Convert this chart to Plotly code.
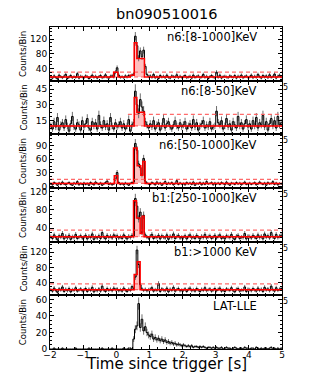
import numpy as np
from plotly import graph_objs as go
from plotly import subplots

# light curve binning (s)
t_start = -2.0
bin_width = 0.05

panel_labels = ['n6:[8-1000]KeV', 'n6:[8-50]KeV', 'n6:[50-1000]KeV',
                'b1:[250-1000]KeV', 'b1:>1000 KeV', 'LAT-LLE']

# counts per bin, one row per second (-2..5 s)
counts_n6_all = [17, 14, 20, 16, 12, 22, 18, 15, 19, 24, 13, 17, 21, 15, 18, 16, 26, 14, 19, 17,
                 15, 20, 18, 13, 17, 22, 16, 19, 14, 18, 21, 15, 17, 23, 16, 14, 19, 20, 17, 30,
                 42, 22, 16, 18, 15, 20, 17, 21, 19, 22, 25, 128, 102, 68, 88, 72, 90, 46, 24, 18,
                 20, 16, 24, 15, 18, 13, 21, 17, 19, 15, 22, 16, 14, 20, 18, 17, 23, 15, 19, 16,
                 18, 21, 15, 17, 19, 14, 22, 16, 18, 20, 15, 17, 24, 16, 19, 13, 18, 21, 17, 15,
                 30, 16, 22, 14, 18, 19, 17, 15, 20, 18, 16, 21, 14, 19, 17, 22, 15, 18, 20, 16,
                 17, 22, 15, 19, 16, 24, 18, 14, 21, 17, 20, 15, 23, 16, 18, 25, 14, 19, 22, 17]
counts_n6_low = [10, 7, 14, 9, 18, 6, 11, 13, 8, 16, 10, 5, 12, 19, 9, 7, 13, 11, 6, 15,
                 9, 12, 17, 8, 6, 14, 10, 13, 7, 20, 11, 8, 15, 9, 12, 6, 18, 10, 7, 13,
                 9, 11, 14, 8, 12, 7, 10, 16, 5, 11, 13, 43, 30, 22, 35, 28, 24, 14, 11, 8,
                 12, 9, 15, 7, 11, 13, 6, 10, 17, 8, 12, 14, 9, 7, 11, 15, 10, 8, 13, 9,
                 11, 14, 7, 10, 12, 8, 16, 9, 13, 6, 10, 12, 15, 8, 11, 9, 14, 7, 9, 10,
                 24, 13, 11, 15, 7, 10, 17, 9, 12, 6, 14, 11, 8, 19, 10, 13, 7, 12, 16, 9,
                 12, 7, 15, 10, 18, 8, 13, 11, 20, 9, 14, 6, 12, 17, 10, 15, 8, 19, 11, 13]
counts_n6_high = [6, 4, 9, 7, 3, 8, 5, 10, 6, 4, 7, 9, 5, 3, 8, 6, 11, 4, 7, 5,
                  8, 5, 7, 3, 9, 6, 4, 10, 7, 5, 8, 3, 6, 9, 12, 5, 7, 4, 6, 16,
                  31, 9, 5, 7, 4, 8, 6, 3, 7, 9, 10, 95, 80, 50, 42, 25, 62, 12, 8, 6,
                  5, 9, 7, 4, 10, 6, 8, 3, 7, 11, 5, 8, 6, 9, 4, 7, 13, 5, 8, 6,
                  7, 4, 9, 6, 8, 5, 10, 3, 7, 6, 9, 4, 8, 5, 11, 6, 7, 9, 4, 8,
                  6, 8, 5, 9, 7, 4, 10, 6, 3, 8, 7, 5, 9, 6, 8, 4, 7, 10, 5, 6,
                  8, 5, 7, 9, 4, 6, 10, 7, 5, 8, 3, 9, 6, 7, 11, 5, 8, 4, 7, 6]
counts_b1_mid = [21, 17, 25, 19, 14, 23, 20, 28, 16, 22, 18, 24, 15, 21, 19, 26, 17, 20, 23, 18,
                 20, 24, 16, 22, 19, 27, 15, 21, 18, 23, 17, 30, 20, 16, 24, 19, 22, 18, 25, 21,
                 23, 18, 21, 17, 25, 20, 16, 22, 19, 24, 22, 105, 88, 60, 75, 30, 68, 25, 20, 18,
                 22, 26, 17, 21, 19, 24, 16, 23, 20, 18, 25, 15, 22, 19, 27, 17, 21, 24, 18, 20,
                 19, 23, 16, 22, 25, 18, 21, 17, 24, 20, 16, 22, 19, 26, 18, 21, 23, 17, 20, 24,
                 18, 22, 25, 17, 20, 16, 23, 21, 19, 26, 18, 15, 22, 24, 17, 20, 19, 28, 16, 22,
                 21, 18, 24, 20, 17, 25, 19, 22, 16, 27, 20, 23, 18, 30, 21, 17, 26, 19, 22, 24]
counts_b1_high = [22, 18, 26, 20, 15, 24, 21, 29, 17, 23, 19, 25, 16, 22, 20, 27, 18, 21, 24, 19,
                  21, 25, 17, 23, 20, 28, 16, 22, 19, 24, 18, 31, 21, 17, 25, 20, 23, 19, 26, 22,
                  24, 19, 22, 18, 26, 21, 17, 23, 20, 30, 25, 55, 126, 88, 35, 24, 20, 23, 19, 22,
                  23, 27, 18, 22, 20, 38, 17, 24, 21, 19, 26, 16, 23, 20, 28, 18, 22, 25, 19, 21,
                  20, 24, 17, 23, 26, 19, 22, 18, 25, 21, 17, 23, 20, 27, 19, 22, 24, 18, 21, 25,
                  19, 23, 26, 18, 21, 17, 24, 22, 20, 27, 19, 16, 23, 25, 18, 21, 20, 29, 17, 23,
                  22, 19, 25, 21, 18, 26, 20, 23, 17, 28, 21, 24, 19, 31, 22, 18, 27, 20, 23, 25]
counts_lle = [0, 0, 1, 0, 0, 0, 0, 1, 0, 0, 0, 0, 0, 0, 0, 1, 0, 0, 0, 0,
              0, 0, 0, 1, 0, 0, 0, 0, 0, 0, 0, 1, 0, 0, 0, 0, 0, 1, 0, 0,
              0, 0, 0, 0, 1, 0, 0, 1, 1, 0, 12, 24, 28, 55, 26, 36, 22, 27, 20, 17,
              15, 18, 12, 14, 11, 13, 10, 12, 9, 11, 8, 9, 7, 8, 6, 7, 5, 6, 5, 4,
              5, 4, 3, 4, 3, 4, 2, 3, 3, 2, 3, 2, 3, 2, 1, 2, 2, 1, 2, 1,
              2, 1, 1, 2, 0, 1, 2, 1, 1, 0, 1, 2, 1, 0, 1, 1, 0, 2, 1, 1,
              0, 1, 1, 0, 2, 1, 0, 1, 0, 1, 1, 0, 1, 2, 0, 1, 0, 1, 0, 1]

# bayesian blocks (edges in s, levels in counts/bin)
bb_edges_n6_all = [-2, -0.08, 0.05, 0.42, 0.54, 0.62, 0.85, 5]
bb_levels_n6_all = [17, 30, 17, 22, 110, 67, 17]
bb_edges_n6_low = [-2, 0.54, 0.62, 0.85, 5]
bb_levels_n6_low = [10, 37, 23, 10]
bb_edges_n6_high = [-2, -0.06, 0.04, 0.52, 0.63, 0.74, 0.80, 0.87, 5]
bb_levels_n6_high = [7, 24, 7, 85, 46, 25, 55, 7]
bb_edges_b1_mid = [-2, 0.52, 0.61, 0.72, 0.78, 0.84, 5]
bb_levels_b1_mid = [21, 100, 62, 28, 66, 21]
bb_edges_b1_high = [-2, 0.54, 0.63, 0.72, 5]
bb_levels_b1_high = [22, 62, 95, 22]

# background and threshold (dashed lines)
bkg_levels = [17, 10, 7, 21, 22]
thr_levels = [30, 21, 16, 35.5, 37]
thr_start = [-2, 0.35, -2, -2, -2]

y_ranges = [[7, 153], [2, 53], [-3, 115], [10, 128], [7, 148], [0, 65]]
y_ticks = [[40, 80, 120], [15, 30, 45], [0, 30, 60, 90], [40, 80, 120], [40, 80, 120], [0, 20, 40, 60]]
x_ticks = [-2, -1, 0, 1, 2, 3, 4, 5]

all_counts = [counts_n6_all, counts_n6_low, counts_n6_high, counts_b1_mid, counts_b1_high, counts_lle]
all_edges = [bb_edges_n6_all, bb_edges_n6_low, bb_edges_n6_high, bb_edges_b1_mid, bb_edges_b1_high]
all_levels = [bb_levels_n6_all, bb_levels_n6_low, bb_levels_n6_high, bb_levels_b1_mid, bb_levels_b1_high]

font = 'DejaVu Sans'
red = 'rgb(255, 0, 0)'
light_red = 'rgba(255, 90, 90, 0.9)'
fill_red = 'rgba(255, 0, 0, 0.25)'

# the page body adds an 8px margin, so the figure is drawn 8px smaller
page_pad = 8
fig_w = 332 - page_pad
fig_h = 388 - page_pad

fig = subplots.make_subplots(rows=6, cols=1, shared_xaxes=True, vertical_spacing=0)

for i in range(6):
    row = i + 1
    counts = np.array(all_counts[i], dtype=float)
    edges = t_start + bin_width*np.arange(len(counts) + 1)
    centers = edges[:-1] + bin_width/2

    if i < 5:
        bb_x = np.array(all_edges[i], dtype=float)
        bb_y = np.array(all_levels[i], dtype=float)
        # shaded blocks above threshold
        sel = bb_y > thr_levels[i]
        fig.add_trace(go.Bar(x=((bb_x[:-1] + bb_x[1:])/2)[sel], y=(bb_y - bkg_levels[i])[sel],
                             base=bkg_levels[i], width=np.diff(bb_x)[sel],
                             marker=dict(color=fill_red, line=dict(width=0)),
                             hoverinfo='skip'), row=row, col=1)

    # error bars
    fig.add_trace(go.Scatter(x=centers, y=counts, mode='markers',
                             marker=dict(size=0, color='rgba(0,0,0,0)'),
                             error_y=dict(type='data', array=np.sqrt(counts), color='#6e6e6e',
                                          thickness=1, width=0),
                             hoverinfo='skip'), row=row, col=1)
    # light curve
    fig.add_trace(go.Scatter(x=edges, y=np.append(counts, counts[-1]), mode='lines',
                             line=dict(color='black', width=1, shape='hv'),
                             hoverinfo='skip'), row=row, col=1)

    if i < 5:
        fig.add_trace(go.Scatter(x=[-2, 5], y=[bkg_levels[i]]*2, mode='lines',
                                 line=dict(color=light_red, width=1.2, dash='4px,3px'),
                                 hoverinfo='skip'), row=row, col=1)
        fig.add_trace(go.Scatter(x=[thr_start[i], 5], y=[thr_levels[i]]*2, mode='lines',
                                 line=dict(color=light_red, width=1.2, dash='4px,3px'),
                                 hoverinfo='skip'), row=row, col=1)
        fig.add_trace(go.Scatter(x=bb_x, y=np.append(bb_y, bb_y[-1]), mode='lines',
                                 line=dict(color=red, width=1.5, shape='hv'),
                                 hoverinfo='skip'), row=row, col=1)

    fig.update_yaxes(range=y_ranges[i], tickvals=y_ticks[i], row=row, col=1,
                     ticks='inside', ticklen=4, tickcolor='black', mirror='allticks',
                     showline=True, linecolor='black', linewidth=1, showgrid=False,
                     zeroline=False, tickfont=dict(size=9, family=font, color='black'),
                     minor=dict(ticks='inside', ticklen=2, tickcolor='black',
                                dtick=(y_ticks[i][1] - y_ticks[i][0])/4, showgrid=False))
    fig.update_xaxes(range=[-2, 5], tickvals=x_ticks, row=row, col=1,
                     ticks='inside', ticklen=4, tickcolor='black', mirror='allticks',
                     showline=True, linecolor='black', linewidth=1, showgrid=False,
                     zeroline=False, showticklabels=(row == 6), ticklabelstandoff=-3,
                     tickfont=dict(size=9, family=font, color='black'),
                     minor=dict(ticks='inside', ticklen=2, tickcolor='black', dtick=0.25,
                                showgrid=False))

    yref = 'y domain' if row == 1 else 'y%d domain' % row
    fig.add_annotation(text=panel_labels[i], xref='paper', x=0.901, xanchor='right',
                       yref=yref, y=0.81, yanchor='middle', showarrow=False,
                       font=dict(size=11.5, family=font, color='black'))
    fig.add_annotation(text='Counts/Bin', xref='paper', x=-0.116, xanchor='center',
                       yref=yref, y=0.5, yanchor='middle', textangle=-90, showarrow=False,
                       font=dict(size=8.5, family=font, color='black'))
    if row < 6:
        # clipped "5" tick label peeking out at the right edge
        fig.add_annotation(text='5', xref='paper', x=1, xanchor='left', xshift=-1,
                           yref=yref, y=0, yanchor='top', showarrow=False,
                           font=dict(size=8, family=font, color='black'))

# figure title, sitting just above the top panel
fig.add_annotation(text='bn090510016', xref='paper', x=0.5, xanchor='center',
                   yref='paper', y=1, yshift=13, yanchor='middle', showarrow=False,
                   font=dict(size=14.5, family=font, color='black'))
fig.add_annotation(text='Time since trigger [s]', xref='paper', x=0.5, xanchor='center',
                   yref='paper', y=0, yshift=-15, yanchor='middle', showarrow=False,
                   font=dict(size=15, family=font, color='black'))

fig.update_layout(width=fig_w, height=fig_h,
                  margin=dict(l=50 - page_pad, r=50, t=27 - page_pad, b=39),
                  barmode='overlay', bargap=0, showlegend=False,
                  plot_bgcolor='white', paper_bgcolor='white',
                  font=dict(family=font, color='black'))

fig.write_html("out.html")
